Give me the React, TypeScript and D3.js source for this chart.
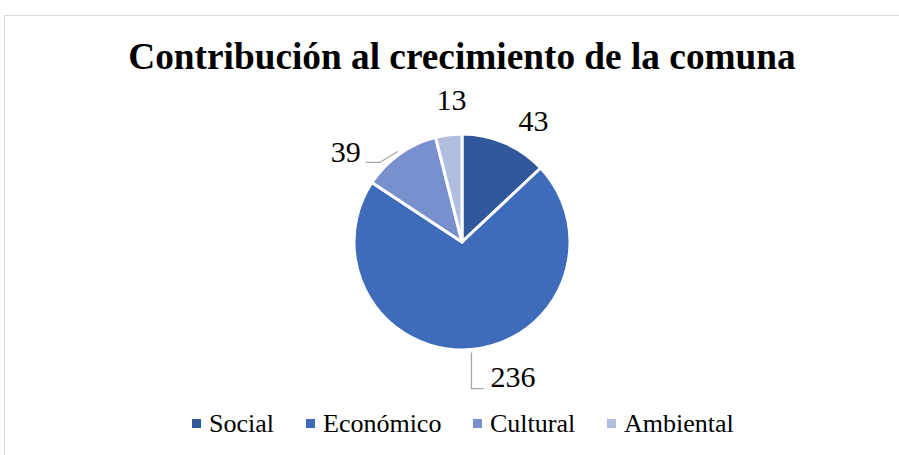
import React from "react";
import * as d3 from "d3";

const title = "Contribución al crecimiento de la comuna";
const categories = ["Social", "Económico", "Cultural", "Ambiental"];
const values = [43, 236, 39, 13];
const colors = ["#31589A", "#3F6CBA", "#7990CF", "#B1BEE0"];

const W = 899;
const H = 455;
const FONT = "'Liberation Serif', 'Times New Roman', Times, serif";

export default function App() {
  const cx = 462;
  const cy = 242;
  const r = 108;

  const pie = d3
    .pie<number>()
    .value((d) => d)
    .sort(null)
    .startAngle(0)
    .endAngle(2 * Math.PI);
  const arcs = pie(values);
  const arcGen = d3.arc<d3.PieArcDatum<number>>().innerRadius(0).outerRadius(r);

  const polar = (angle: number, rad: number): [number, number] => [
    cx + rad * Math.sin(angle),
    cy - rad * Math.cos(angle),
  ];

  // label layout (Excel "best fit" style placement around the pie)
  const labels = arcs.map((a, i) => {
    const mid = (a.startAngle + a.endAngle) / 2;
    const edge = polar(mid, r + 3);
    const cat = categories[i];
    let x = 0,
      y = 0,
      anchor: "start" | "middle" | "end" = "middle",
      line: [number, number][] | null = null;
    if (cat === "Social") {
      const p = polar(mid, r + 42);
      x = p[0] + 12;
      y = p[1] + 27;
    } else if (cat === "Ambiental") {
      const p = polar(mid, r + 34);
      x = p[0] + 7;
      y = p[1] + 9;
    } else if (cat === "Cultural") {
      const elbow: [number, number] = [edge[0] - 18, edge[1] + 11];
      const end: [number, number] = [elbow[0] - 14, elbow[1]];
      line = [edge, elbow, end];
      x = end[0] - 5;
      y = end[1];
      anchor = "end";
    } else {
      const elbow: [number, number] = [edge[0], edge[1] + 36];
      const end: [number, number] = [elbow[0] + 12, elbow[1]];
      line = [edge, elbow, end];
      x = end[0] + 7;
      y = end[1] - 2;
      anchor = "start";
    }
    return { x, y, anchor, line, value: values[i] };
  });

  const legendX = [192, 306, 473, 607];

  return (
    <svg
      width={W}
      height={H}
      style={{ position: "absolute", left: 0, top: 0, background: "#fff" }}
      fontFamily={FONT}
    >
      <rect x={0} y={0} width={W} height={H} fill="#fff" />
      <rect x={4.5} y={15.5} width={W + 10} height={H + 10} fill="#fff" stroke="#D9D9D9" strokeWidth={1} />
      <text x={462} y={69} textAnchor="middle" fontSize={37.3} fontWeight="bold" fill="#000" fontFamily={FONT}>
        {title}
      </text>
      <g transform={`translate(${cx},${cy})`}>
        {arcs.map((a, i) => (
          <path key={i} d={arcGen(a) || ""} fill={colors[i]} stroke="#fff" strokeWidth={3} strokeLinejoin="round" />
        ))}
      </g>
      {labels.map((l, i) => (
        <g key={i}>
          {l.line && (
            <polyline
              points={l.line.map((p) => p.join(",")).join(" ")}
              fill="none"
              stroke="#A6A6A6"
              strokeWidth={1.3}
            />
          )}
          <text x={l.x} y={l.y} textAnchor={l.anchor} fontSize={30} fill="#000" fontFamily={FONT}>
            {l.value}
          </text>
        </g>
      ))}
      {categories.map((c, i) => (
        <g key={c}>
          <rect x={legendX[i]} y={419} width={9} height={9} fill={colors[i]} />
          <text x={legendX[i] + 17} y={432} fontSize={26} fill="#000" fontFamily={FONT}>
            {c}
          </text>
        </g>
      ))}
    </svg>
  );
}
